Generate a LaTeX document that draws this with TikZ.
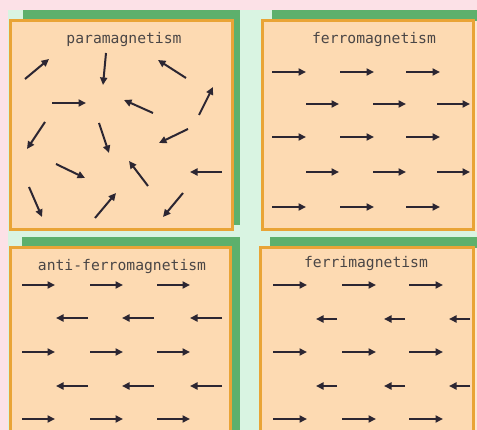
\documentclass[tikz,border=0pt]{standalone}
\usepackage{fontspec}
\newfontfamily\lblfont{DejaVu Sans Mono}
\usetikzlibrary{arrows.meta}
\definecolor{peach}{HTML}{FDDAB2}
\definecolor{palepeach}{HTML}{FDE6CE}
\definecolor{orng}{HTML}{E9A436}
\definecolor{grn}{HTML}{5DB06C}
\definecolor{mint}{HTML}{D9F4E2}
\definecolor{pinkbg}{HTML}{FCE1E7}
\definecolor{arr}{HTML}{2C2632}
\definecolor{txt}{HTML}{4A4646}
\tikzset{
  panel/.style={draw=orng, line width=3pt, fill=peach},
  shadowband/.style={fill=grn},
  spin/.style={draw=arr, line width=2pt, -{Triangle[length=7.5pt,width=7pt]}},
  ttl/.style={font=\lblfont\fontsize{14.7}{16}\selectfont, text=txt, inner sep=0pt, anchor=base},
}
\begin{document}
\begin{tikzpicture}[x=1pt,y=-1pt]
\useasboundingbox (0,0) rectangle (477,430);
\clip (0,0) rectangle (477,430);
% background
\fill[pinkbg] (0,0) rectangle (477,430);
\fill[mint] (8,10) rectangle (477,430);
% green shadows
\fill[shadowband] (23,10) rectangle (240,225);
\fill[shadowband] (272,10) rectangle (490,225);
\fill[shadowband] (22,237) rectangle (240,445);
\fill[shadowband] (270,237) rectangle (490,445);
\fill[palepeach] (474.5,21) rectangle (477,232);
\fill[palepeach] (474.5,248) rectangle (477,430);
% panels
\draw[panel] (10,21) rectangle (232,230);
\draw[panel] (262,21) rectangle (473,230);
\draw[panel] (10,248) rectangle (230,445);
\draw[panel] (260,248) rectangle (473,445);
% titles
\node[ttl] (t1) at (124,44) {paramagnetism};
\node[ttl] (t2) at (374,44) {ferromagnetism};
\node[ttl] (t3) at (122,271) {anti-ferromagnetism};
\node[ttl] (t4) at (366,268) {ferrimagnetism};
% paramagnetism: random spins
\foreach \ax/\ay/\bx/\by in {
  25/79/49/59, 106/53/103/85, 186/78/158/60, 199/115/213/87,
  52/103/86/103, 153/113/124/100, 45/122/27/149, 99/123/109/153,
  188/129/159/143, 56/164/85/178, 148/186/129/161, 222/172/190/172,
  29/187/42/217, 95/218/116/193, 183/193/163/217}
  \draw[spin] (\ax,\ay) -- (\bx,\by);
% ferromagnetism
\foreach \y in {72,137,207}
  \foreach \x in {272,340,406}
    \draw[spin] (\x,\y) -- ++(34,0);
\foreach \y in {104,172}
  \foreach \x in {306,373,437}
    \draw[spin] (\x,\y) -- ++(33,0);
% anti-ferromagnetism
\foreach \y in {285,352,419}
  \foreach \x in {22,90,157}
    \draw[spin] (\x,\y) -- ++(33,0);
\foreach \y in {318,386}
  \foreach \x in {88,154,222}
    \draw[spin] (\x,\y) -- ++(-32,0);
% ferrimagnetism
\foreach \y in {285,352,419}
  \foreach \x in {273,342,409}
    \draw[spin] (\x,\y) -- ++(34,0);
\foreach \y in {319,386}
  \foreach \x in {337,405,470}
    \draw[spin] (\x,\y) -- ++(-21,0);
\end{tikzpicture}
\end{document}
